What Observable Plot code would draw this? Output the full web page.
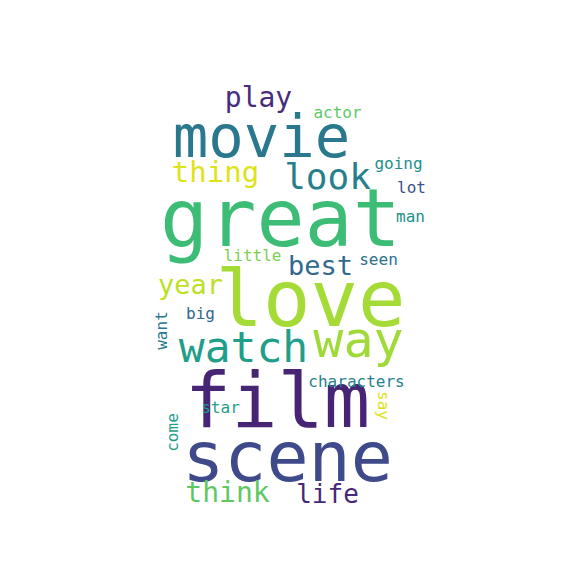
<!DOCTYPE html>
<html>
<head>
<meta charset="utf-8">
<script src="https://cdn.jsdelivr.net/npm/d3@7"></script>
<script src="https://cdn.jsdelivr.net/npm/@observablehq/plot@0.6"></script>
<style>body{margin:0;background:#fff}</style>
</head>
<body>
<div id="chart"></div>
<script>
// palabras de la nube, posición del centro, tamaño, giro y color
const words  = ['great','love','film','scene','movie','watch','way','look','thing','play','best','year','think','life','actor','going','lot','man','little','seen','big','want','characters','star','say','come']
const xs     = [280,310,277,287,261,243,358,327,215,258,320,190,227,327,337,398,411,410,252,378,200,161,356,220,383,172]
const ys     = [220,300,402,458,138,348,340,177,172,98,266,285,493,494,112,163,187,216,255,259,313,330,381,407,405,432]
const sizes  = [80,79,77,70,59,43,50,36,29,28,27,27,28,26,16,16,16,16,16,16,16,16,16,16,16,16]
const rot    = [0,0,0,0,0,0,0,0,0,0,0,0,0,0,0,0,0,0,0,0,0,-90,0,0,90,-90]
const colors = ['#3cbc75','#a5db36','#482475','#3e4a89','#2a788e','#1f9e89','#a0da39','#277f8e','#dde318','#472d7b','#31688e','#bddf26','#5ec962','#482878','#5ec962','#21918c','#3b528b','#21918c','#7ad151','#2c728e','#31688e','#2a788e','#26828e','#1f9e89','#dde318','#1f9e89']

const data = words.map((w, i) => ({w, x: xs[i], y: ys[i], s: sizes[i], r: rot[i], c: colors[i]}))

const chart = Plot.plot({
  width: 576,
  height: 576,
  margin: 0,
  x: {domain: [0, 576], axis: null},
  y: {domain: [576, 0], axis: null},
  marks: [
    Plot.text(data, {
      x: 'x', y: 'y', text: 'w',
      fontSize: 's', rotate: 'r', fill: 'c',
      fontFamily: 'DejaVu Sans Mono',
      textAnchor: 'middle', lineAnchor: 'middle'
    })
  ]
})
d3.select('#chart').append(() => chart)
</script>
</body>
</html>
